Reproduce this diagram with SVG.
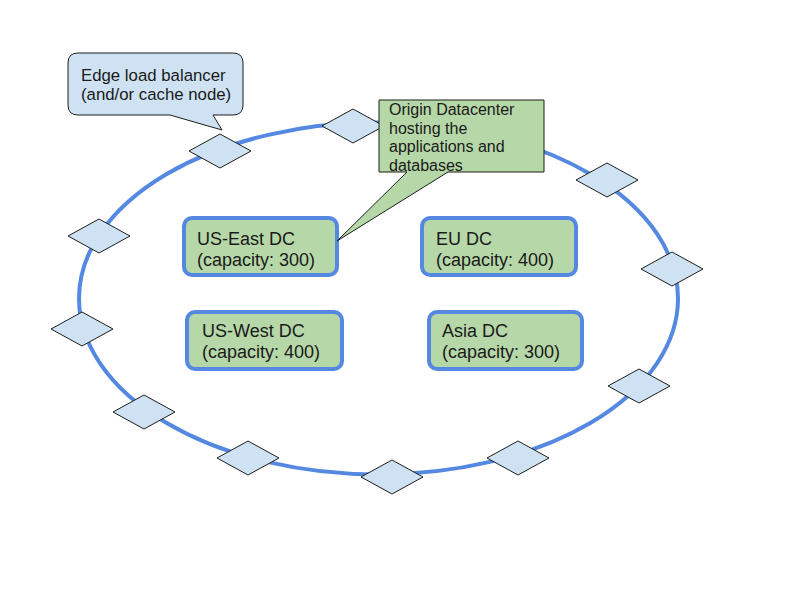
<svg xmlns="http://www.w3.org/2000/svg" width="800" height="600" viewBox="0 0 800 600">
<style>
.ring{fill:none;stroke:#5589e1;stroke-width:4}
.dia{fill:#cfe2f3;stroke:#1b1f1b;stroke-width:1}
.dc{fill:#b6d7a8;stroke:#5589e1;stroke-width:4}
.dct{font-family:"Liberation Sans",Arial,sans-serif;font-size:18px;fill:#1a1a1a}
.ct{font-family:"Liberation Sans",Arial,sans-serif;font-size:16px;fill:#1a1a1a}
.call{stroke:#1b1f1b;stroke-width:1}
</style>
<rect width="800" height="600" fill="#ffffff"/>
<g id="connectors">
<ellipse class="ring" cx="378.5" cy="298.5" rx="299.5" ry="176"/>
</g>
<g id="edge-nodes">
<polygon class="dia" points="189,151 220,134 251,151 220,168"/>
<polygon class="dia" points="322,126 353,109 384,126 353,143"/>
<polygon class="dia" points="576,180 607,163 638,180 607,197"/>
<polygon class="dia" points="641,269 672,252 703,269 672,286"/>
<polygon class="dia" points="608,386 639,369 670,386 639,403"/>
<polygon class="dia" points="487,458 518,441 549,458 518,475"/>
<polygon class="dia" points="361,477 392,460 423,477 392,494"/>
<polygon class="dia" points="217,458 248,441 279,458 248,475"/>
<polygon class="dia" points="113,412 144,395 175,412 144,429"/>
<polygon class="dia" points="51,329 82,312 113,329 82,346"/>
<polygon class="dia" points="68,236 99,219 130,236 99,253"/>
</g>
<g id="us-east">
<rect class="dc" x="184" y="218" width="153" height="57" rx="8"/>
<text class="dct" x="197" y="245">US-East DC</text>
<text class="dct" x="197" y="266">(capacity: 300)</text>
</g>
<g id="eu">
<rect class="dc" x="422" y="218" width="154" height="57" rx="8"/>
<text class="dct" x="436" y="245">EU DC</text>
<text class="dct" x="436" y="266">(capacity: 400)</text>
</g>
<g id="us-west">
<rect class="dc" x="187" y="312" width="155" height="57" rx="8"/>
<text class="dct" x="202" y="337">US-West DC</text>
<text class="dct" x="202" y="358">(capacity: 400)</text>
</g>
<g id="asia">
<rect class="dc" x="429" y="312" width="153" height="57" rx="8"/>
<text class="dct" x="442" y="337">Asia DC</text>
<text class="dct" x="442" y="358">(capacity: 300)</text>
</g>
<g id="edge-callout">
<path class="call" fill="#cfe2f3" d="M78,53 H233 Q243,53 243,63 V105 Q243,115 233,115 H213 L222,130 L170,115 H78 Q68,115 68,105 V63 Q68,53 78,53 Z"/>
<text class="ct" x="81" y="81" style="font-size:16.8px">Edge load balancer</text>
<text class="ct" x="81" y="100" style="font-size:16.8px">(and/or cache node)</text>
</g>
<g id="origin-callout">
<path class="call" fill="#b6d7a8" d="M379,100 H544 V172 H448 L337,241 L407,172 H379 Z"/>
<text class="ct" x="389" y="115">Origin Datacenter</text>
<text class="ct" x="389" y="133.5">hosting the</text>
<text class="ct" x="389" y="152">applications and</text>
<text class="ct" x="389" y="170.5">databases</text>
</g>
</svg>
